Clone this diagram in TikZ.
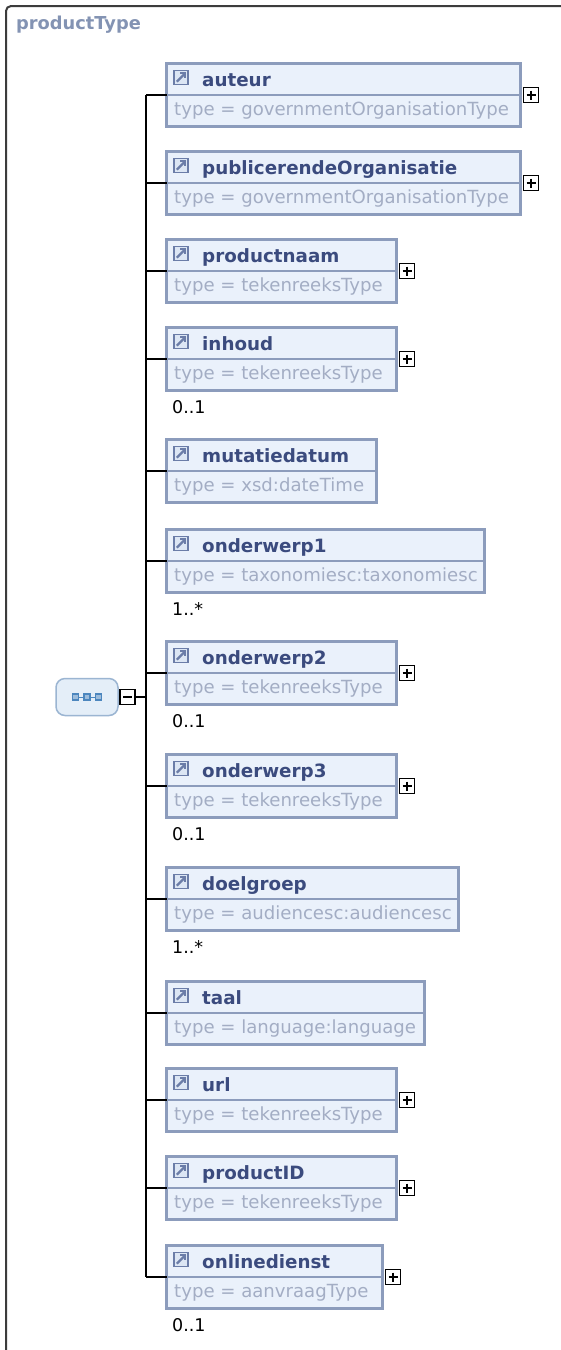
\documentclass[tikz,border=0pt]{standalone}
\usepackage{fontspec}
\setmainfont{DejaVu Sans}
\usetikzlibrary{calc}

\definecolor{boxborder}{HTML}{8C9CBC}
\definecolor{boxfill}{HTML}{EAF1FB}
\definecolor{nametxt}{HTML}{3B4B7E}
\definecolor{typetxt}{HTML}{A3ADC4}
\definecolor{titletxt}{HTML}{8393B3}
\definecolor{seqfill}{HTML}{E4EEF8}
\definecolor{seqborder}{HTML}{9BB5D2}
\definecolor{seqdot}{HTML}{4C86BE}
\definecolor{iconcol}{HTML}{6B7DA8}
\definecolor{iconfill}{HTML}{DCE6F4}
\definecolor{framecol}{HTML}{3C3C3C}

\tikzset{
  elbox/.style={draw=boxborder, line width=3pt, fill=boxfill, anchor=north west,
                minimum height=63pt, inner sep=0pt, outer sep=0pt},
  divline/.style={draw=boxborder, line width=1.5pt},
  conn/.style={draw=black, line width=1.4pt},
  nametext/.style={anchor=base west, inner sep=0pt, text=nametxt,
                   font=\bfseries\fontsize{18.3}{21}\selectfont},
  typetext/.style={anchor=base west, inner sep=0pt, text=typetxt,
                   font=\fontsize{18.1}{21}\selectfont},
  multtext/.style={anchor=base west, inner sep=0pt, text=black,
                   font=\fontsize{17.5}{20}\selectfont},
  iconbox/.style={draw=iconcol, line width=1.4pt, fill=iconfill, minimum size=14pt,
                  inner sep=0pt},
  iconarrow/.style={draw=iconcol, line width=2.2pt, line cap=butt},
  pmbox/.style={draw=black, line width=1.4pt, fill=white, minimum size=15pt,
                inner sep=0pt},
  pmsign/.style={draw=black, line width=1.8pt},
  seqbox/.style={draw=seqborder, line width=1.5pt, fill=seqfill, rounded corners=9pt,
                 minimum width=62pt, minimum height=37pt, inner sep=0pt},
  seqdotbox/.style={draw=seqdot, fill=seqdot!55, line width=1.2pt, minimum size=6pt,
                    inner sep=0pt},
  titletext/.style={anchor=base west, inner sep=0pt, text=titletxt,
                    font=\bfseries\fontsize{17.8}{20}\selectfont},
  framestyle/.style={draw=framecol, line width=2pt, rounded corners=5pt},
}

% one element of the sequence: id, top, right edge, name, type
\newcommand\xsdelem[5]{%
  \node[elbox, minimum width={#3pt-168pt}] (#1) at (166.5,#2+1.5) {};
  \draw[divline] (#1.west) -- (#1.east);
  \node[iconbox] (#1-icon) at ($(#1.north west)+(14.5,14)$) {};
  \draw[iconarrow] ($(#1-icon.south west)+(3.5,-3.5)$) -- ($(#1-icon.north east)+(-3.5,3.5)$);
  \draw[iconarrow] ($(#1-icon.north east)+(-8.5,3.5)$) -- ($(#1-icon.north east)+(-3.5,3.5)$)
                   -- ($(#1-icon.north east)+(-3.5,8.5)$);
  \node[nametext] (#1-name) at ($(#1.north west)+(35.5,22.5)$) {#4};
  \node[typetext] (#1-type) at ($(#1.north west)+(7.5,52)$) {type = #5};
  \draw[conn] (#1.west) -- (#1.west -| spine);
}
% expand button to the right of an element
\newcommand\xsdplus[1]{%
  \node[pmbox] (#1-plus) at ($(#1.east)+(10.5,0)$) {};
  \draw[pmsign] ($(#1-plus.center)+(-4.5,0)$) -- ($(#1-plus.center)+(4.5,0)$)
                ($(#1-plus.center)+(0,-4.5)$) -- ($(#1-plus.center)+(0,4.5)$);
}
% occurrence label under an element
\newcommand\xsdmult[2]{%
  \node[multtext] (#1-mult) at ($(#1.south west)+(5.5,22.5)$) {#2};
}

\begin{document}
\begin{tikzpicture}[x=1pt,y=-1pt]
  \useasboundingbox (0,0) rectangle (561,1350);
  \clip (0,0) rectangle (561,1350);
  \fill[white] (0,0) rectangle (561,1350);

  % complex type frame and its title
  \draw[framestyle] (6,1370) -- (6,6) -- (580,6);
  \node[titletext] (title) at (16,29) {productType};

  \coordinate (spine) at (146,0);

  \xsdelem{auteur}{62}{522}{auteur}{governmentOrganisationType}
  \xsdplus{auteur}
  \xsdelem{publ}{150}{522}{publicerendeOrganisatie}{governmentOrganisationType}
  \xsdplus{publ}
  \xsdelem{productnaam}{238}{398}{productnaam}{tekenreeksType}
  \xsdplus{productnaam}
  \xsdelem{inhoud}{326}{398}{inhoud}{tekenreeksType}
  \xsdplus{inhoud}
  \xsdmult{inhoud}{0..1}
  \xsdelem{mutatiedatum}{438}{378}{mutatiedatum}{xsd:dateTime}
  \xsdelem{onderwerpA}{528}{486}{onderwerp1}{taxonomiesc:taxonomiesc}
  \xsdmult{onderwerpA}{1..*}
  \xsdelem{onderwerpB}{640}{398}{onderwerp2}{tekenreeksType}
  \xsdplus{onderwerpB}
  \xsdmult{onderwerpB}{0..1}
  \xsdelem{onderwerpC}{753}{398}{onderwerp3}{tekenreeksType}
  \xsdplus{onderwerpC}
  \xsdmult{onderwerpC}{0..1}
  \xsdelem{doelgroep}{866}{460}{doelgroep}{audiencesc:audiencesc}
  \xsdmult{doelgroep}{1..*}
  \xsdelem{taal}{980}{426}{taal}{language:language}
  \xsdelem{url}{1067}{398}{url}{tekenreeksType}
  \xsdplus{url}
  \xsdelem{productID}{1155}{398}{productID}{tekenreeksType}
  \xsdplus{productID}
  \xsdelem{onlinedienst}{1244}{384}{onlinedienst}{aanvraagType}
  \xsdplus{onlinedienst}
  \xsdmult{onlinedienst}{0..1}

  % vertical spine of the sequence
  \draw[conn] (auteur.west -| spine) -- (onlinedienst.west -| spine);

  % sequence compositor with collapse button
  \node[seqbox] (seq) at (87,697) {};
  \node[seqdotbox] (dotA) at ($(seq.center)+(-11.5,0)$) {};
  \node[seqdotbox] (dotB) at (seq.center) {};
  \node[seqdotbox] (dotC) at ($(seq.center)+(11.5,0)$) {};
  \draw[seqdot, line width=1pt] (dotA) -- (dotB) (dotB) -- (dotC);
  \node[pmbox] (seqminus) at (127.5,697) {};
  \draw[pmsign] ($(seqminus.center)+(-4.5,0)$) -- ($(seqminus.center)+(4.5,0)$);
  \draw[conn] (seqminus.east) -- (seqminus.east -| spine);
\end{tikzpicture}
\end{document}
